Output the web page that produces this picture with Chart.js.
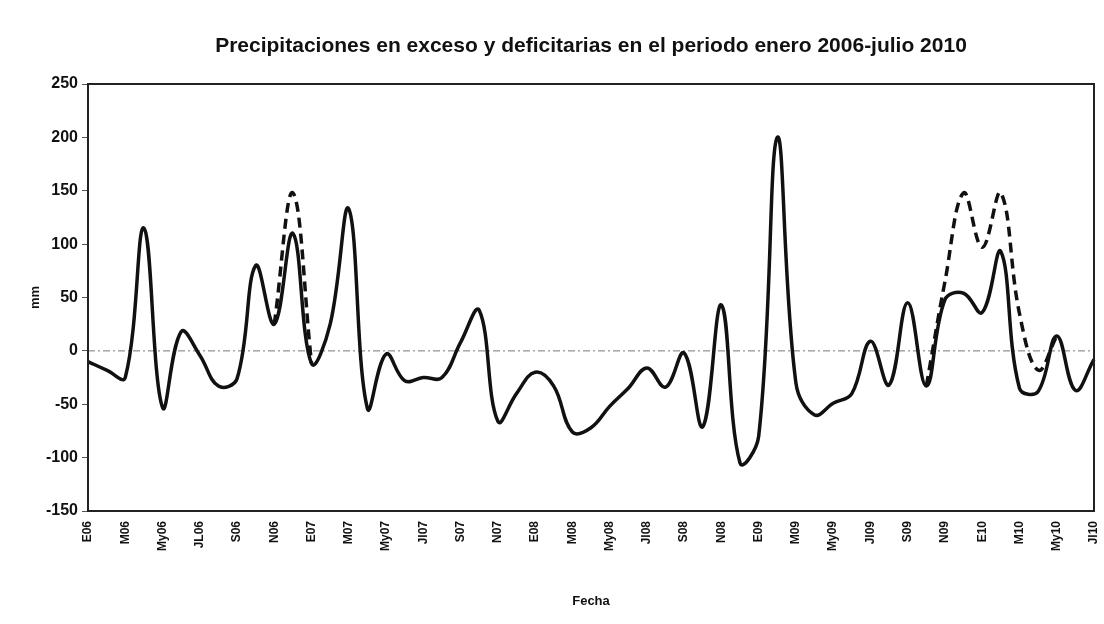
<!DOCTYPE html>
<html>
<head>
<meta charset="utf-8">
<script src="https://cdn.jsdelivr.net/npm/chart.js@4"></script>
<style>
  html, body { margin: 0; padding: 0; background: #fff; }
  #wrap { width: 1104px; height: 624px; }
</style>
</head>
<body>
<div id="wrap"><canvas id="chart" width="1104" height="624"></canvas></div>
<script>
// months jan 2006 - jul 2010 (label shown every 2 months)
const months = [
  "E06","F06","M06","A06","My06","Jn06","JL06","Ag06","S06","O06","N06","D06",
  "E07","F07","M07","A07","My07","Jn07","Jl07","Ag07","S07","O07","N07","D07",
  "E08","F08","M08","A08","My08","Jn08","Jl08","Ag08","S08","O08","N08","D08",
  "E09","F09","M09","A09","My09","Jn09","Jl09","Ag09","S09","O09","N09","D09",
  "E10","F10","M10","A10","My10","Jn10","Jl10"
];

// solid line (mm)
const precip = [
  -10, -18, -25, 115, -53, 18, -4, -33, -26, 80, 25, 110,
  -12, 25, 133, -54, -3, -28, -25, -25, 8, 38, -66, -40,
  -20, -33, -76, -72, -52, -35, -16, -34, -2, -71, 43, -105,
  -80, 200, -30, -60, -49, -40, 9, -32, 45, -33, 48, 54,
  36, 93, -35, -38, 14, -37, -8
];

// dashed line, only where it departs from the solid one
const precipAlt = [
  null, null, null, null, null, null, null, null, null, null, 25, 148,
  -12, null, null, null, null, null, null, null, null, null, null, null,
  null, null, null, null, null, null, null, null, null, null, null, null,
  null, null, null, null, null, null, null, null, null, -33, 65, 148,
  97, 148, 35, -18, 14, null, null
];

const yTicks = { min: -150, max: 250, step: 50 };

const FONT = "'Liberation Sans', Arial, sans-serif";

const extras = {
  id: "extras",
  beforeDatasetsDraw(chart) {
    const c = chart.ctx, a = chart.chartArea;
    const y0 = chart.scales.y.getPixelForValue(0);
    c.save();
    c.strokeStyle = "#777";
    c.lineWidth = 1;
    c.setLineDash([7, 3, 2, 3]);
    c.beginPath();
    c.moveTo(a.left, y0);
    c.lineTo(a.right, y0);
    c.stroke();
    c.restore();
  },
  afterDraw(chart) {
    const c = chart.ctx, a = chart.chartArea;
    c.save();
    c.strokeStyle = "#222";
    c.lineWidth = 2;
    c.strokeRect(a.left, a.top, a.right - a.left, a.bottom - a.top);
    c.fillStyle = "#111";
    c.font = "bold 21px " + FONT;
    c.textAlign = "center";
    c.textBaseline = "middle";
    c.fillText("Precipitaciones en exceso y deficitarias en el periodo enero 2006-julio 2010", (a.left + a.right) / 2, 46);
    c.restore();
  }
};

new Chart(document.getElementById("chart"), {
  type: "line",
  data: {
    labels: months,
    datasets: [
      {
        label: "precip",
        data: precip,
        borderColor: "#111",
        borderWidth: 3.5,
        pointRadius: 0,
        tension: 0.4,
        fill: false
      },
      {
        label: "alt",
        data: precipAlt,
        borderColor: "#111",
        borderWidth: 3.5,
        borderDash: [10, 6],
        pointRadius: 0,
        tension: 0.4,
        spanGaps: false,
        fill: false
      }
    ]
  },
  options: {
    responsive: false,
    animation: false,
    layout: { padding: { top: 84, right: 10, left: 0, bottom: 0 } },
    plugins: {
      legend: { display: false },
      tooltip: { enabled: false },
      title: { display: false }
    },
    scales: {
      x: {
        offset: false,
        grid: { display: false },
        border: { display: false },
        ticks: {
          autoSkip: false,
          maxRotation: 90,
          minRotation: 90,
          color: "#111",
          padding: 2,
          font: { family: FONT, size: 12, weight: "bold" },
          callback: function (v, i) { return i % 2 === 0 ? months[i] : ""; }
        },
        title: {
          display: true,
          text: "Fecha",
          color: "#111",
          font: { family: FONT, size: 13, weight: "bold" },
          padding: { top: 40, bottom: 15 }
        },
        afterFit: function (s) {
          s.height = 113;
          s.paddingLeft = 0;
          s.paddingRight = 0;
        }
      },
      y: {
        min: yTicks.min,
        max: yTicks.max,
        grid: { drawOnChartArea: false, drawTicks: true, tickLength: 6, color: "#555" },
        border: { display: false },
        ticks: {
          stepSize: yTicks.step,
          color: "#111",
          padding: 4,
          font: { family: FONT, size: 16, weight: "bold" }
        },
        title: {
          display: true,
          text: "mm",
          color: "#111",
          font: { family: FONT, size: 13, weight: "bold" },
          padding: { top: 28, bottom: 28 }
        },
        afterFit: function (s) { s.width = 88; }
      }
    }
  },
  plugins: [extras]
});
</script>
</body>
</html>
